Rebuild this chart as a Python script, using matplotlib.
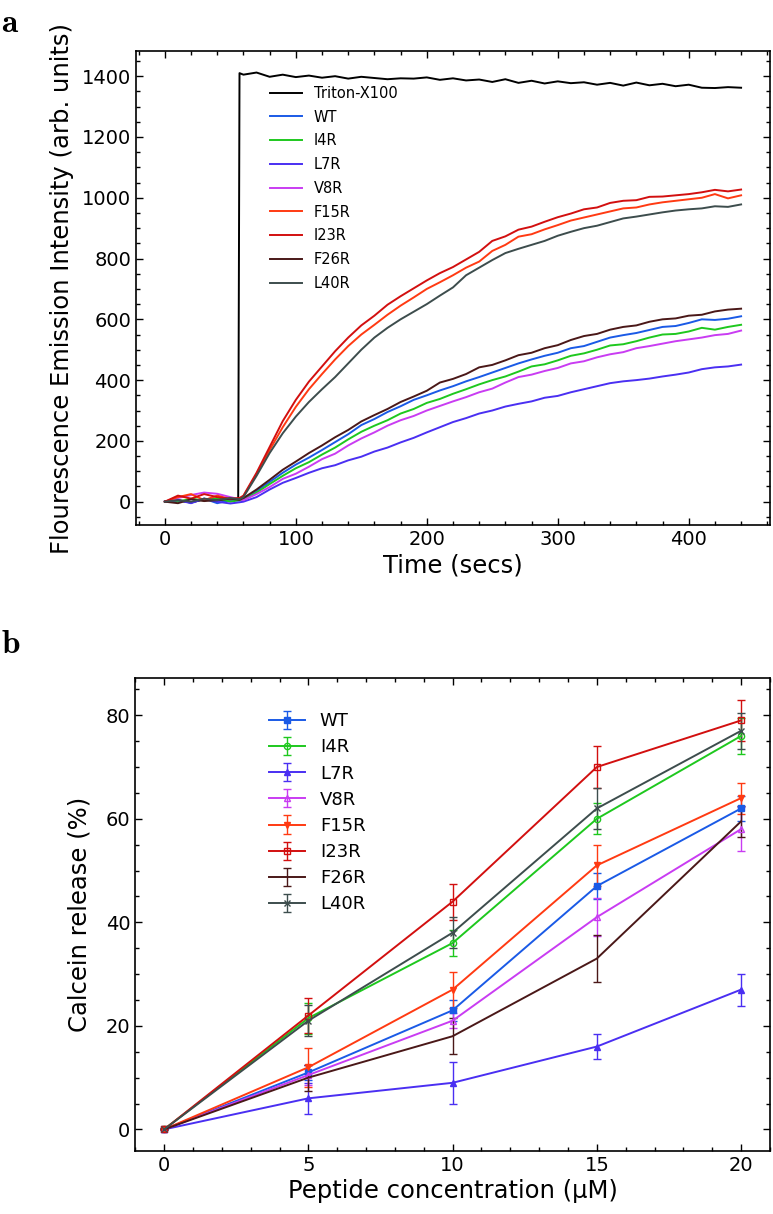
import matplotlib
matplotlib.use('Agg')
import matplotlib.pyplot as plt
from matplotlib.ticker import AutoMinorLocator

plt.rcParams['mathtext.fontset'] = 'cm'

# panel a: fluorescence time courses
triton_time = [0, 10, 20, 30, 40, 50, 56, 57, 60, 70, 80, 90, 100, 110, 120, 130, 140, 150,
               160, 170, 180, 190, 200, 210, 220, 230, 240, 250, 260, 270, 280, 290, 300,
               310, 320, 330, 340, 350, 360, 370, 380, 390, 400, 410, 420, 430, 440]
triton = [0, 5, -3, 8, 4, 10, 8, 1410, 1405, 1412, 1398, 1405, 1397, 1402, 1395, 1400, 1392,
          1398, 1394, 1390, 1393, 1392, 1396, 1388, 1393, 1386, 1389, 1381, 1390, 1378, 1385,
          1376, 1383, 1377, 1380, 1372, 1378, 1369, 1379, 1370, 1375, 1367, 1372, 1362, 1361,
          1364, 1362]

time_s = [0, 10, 20, 30, 40, 50, 57, 60, 70, 80, 90, 100, 110, 120, 130, 140, 150, 160, 170,
          180, 190, 200, 210, 220, 230, 240, 250, 260, 270, 280, 290, 300, 310, 320, 330, 340,
          350, 360, 370, 380, 390, 400, 410, 420, 430, 440]

wt_a = [0, 5, -3, 10, -5, 5, 4, 10, 35, 65, 95, 122, 145, 170, 196, 222, 252, 272, 295, 314,
        335, 350, 366, 380, 396, 410, 425, 440, 455, 468, 480, 490, 505, 512, 526, 540, 548,
        555, 565, 575, 578, 588, 600, 598, 602, 610]
i4r_a = [0, 0, 10, 4, 12, 0, 5, 6, 30, 58, 85, 110, 130, 155, 178, 205, 230, 250, 268, 290,
         305, 325, 338, 355, 370, 386, 400, 412, 428, 445, 452, 465, 480, 488, 500, 514, 518,
         528, 540, 550, 552, 560, 572, 566, 575, 582]
l7r_a = [0, 5, -5, 10, 0, -6, -2, 0, 15, 40, 62, 78, 95, 110, 120, 136, 148, 165, 178, 195,
         210, 228, 245, 262, 275, 290, 300, 313, 322, 330, 342, 348, 360, 370, 380, 390, 396,
         400, 405, 412, 418, 425, 436, 442, 445, 451]
v8r_a = [0, 12, 22, 30, 26, 15, 8, 5, 25, 48, 75, 92, 115, 140, 158, 185, 208, 228, 250, 268,
         282, 300, 315, 330, 344, 360, 372, 392, 410, 418, 430, 440, 455, 462, 475, 485, 492,
         505, 512, 520, 528, 534, 540, 548, 552, 563]
f15r_a = [0, 15, 25, 5, 20, 8, 10, 18, 90, 170, 245, 312, 370, 420, 468, 512, 550, 582, 615,
          645, 672, 700, 722, 745, 770, 790, 825, 845, 872, 880, 896, 910, 925, 935, 945, 955,
          965, 968, 978, 985, 990, 995, 1000, 1012, 998, 1008]
i23r_a = [0, 20, 10, 25, 15, 10, 12, 20, 95, 180, 265, 335, 395, 445, 495, 540, 580, 612, 648,
          676, 702, 728, 752, 772, 797, 822, 858, 873, 895, 905, 921, 936, 948, 962, 968, 983,
          990, 992, 1003, 1004, 1008, 1012, 1018, 1026, 1021, 1027]
f26r_a = [0, -5, 8, 2, 5, 10, 6, 12, 40, 72, 105, 132, 160, 185, 212, 236, 264, 285, 305, 328,
          346, 365, 392, 404, 420, 442, 450, 465, 482, 490, 505, 515, 532, 545, 552, 566, 575,
          580, 592, 600, 603, 612, 615, 626, 632, 635]
l40r_a = [0, 5, 0, 10, 5, 12, 8, 15, 85, 160, 225, 280, 328, 370, 410, 455, 500, 540, 572, 600,
          625, 650, 678, 705, 745, 770, 795, 818, 832, 845, 858, 875, 888, 900, 908, 920, 932,
          938, 945, 952, 958, 962, 965, 972, 970, 978]

# panel b: calcein release
conc = [0, 5, 10, 15, 20]
wt_b = [0, 11, 23, 47, 62]
wt_err = [0, 1.5, 2, 2.5, 2.5]
i4r_b = [0, 21.5, 36, 60, 76]
i4r_err = [0, 3, 2.5, 3, 3.4]
l7r_b = [0, 6, 9, 16, 27]
l7r_err = [0, 3, 4, 2.4, 3.1]
v8r_b = [0, 10.5, 21, 41, 58]
v8r_err = [0, 2, 1.5, 3.7, 4.2]
f15r_b = [0, 12, 27, 51, 64]
f15r_err = [0, 3.8, 3.5, 4, 3]
i23r_b = [0, 22, 44, 70, 79]
i23r_err = [0, 3.4, 3.5, 4.1, 4]
f26r_b = [0, 10, 18, 33, 59.5]
f26r_err = [0, 2.5, 3.5, 4.5, 3]
l40r_b = [0, 21, 38, 62, 77]
l40r_err = [0, 3, 3, 4, 3.5]

names = ['WT', 'I4R', 'L7R', 'V8R', 'F15R', 'I23R', 'F26R', 'L40R']
colors = ['#1a5ae6', '#1ec81e', '#4a2ff2', '#c93cf2', '#ff3a12', '#d20f0f', '#4a1818', '#3d4d4d']
markers = ['s', 'o', '^', '^', 'v', 's', '', 'x']
filled = [True, False, True, False, True, False, True, True]

curves_a = [wt_a, i4r_a, l7r_a, v8r_a, f15r_a, i23r_a, f26r_a, l40r_a]
vals_b = [wt_b, i4r_b, l7r_b, v8r_b, f15r_b, i23r_b, f26r_b, l40r_b]
errs_b = [wt_err, i4r_err, l7r_err, v8r_err, f15r_err, i23r_err, f26r_err, l40r_err]

fig = plt.figure(figsize=(7.73, 12.14), dpi=100)
ax1 = fig.add_axes([0.176, 0.5675, 0.82, 0.3905])
ax2 = fig.add_axes([0.175, 0.052, 0.821, 0.3893])


def style_axis(ax):
    ax.xaxis.set_minor_locator(AutoMinorLocator())
    ax.yaxis.set_minor_locator(AutoMinorLocator())
    ax.tick_params(which='both', direction='in', top=True, right=True, width=1)
    ax.tick_params(which='major', length=5, labelsize=14)
    ax.tick_params(which='minor', length=3)
    for s in ax.spines.values():
        s.set_linewidth(1.2)


# panel a
ax1.plot(triton_time, triton, color='black', lw=1.4, label='Triton-X100')
for name, c, y in zip(names, colors, curves_a):
    ax1.plot(time_s, y, color=c, lw=1.4, label=name)
ax1.set_xlabel('Time (secs)', fontsize=17.5, labelpad=3)
ax1.set_ylabel('Flourescence Emission Intensity (arb. units)', fontsize=17.5, labelpad=6)
ax1.set_xticks([0, 100, 200, 300, 400])
ax1.set_yticks([0, 200, 400, 600, 800, 1000, 1200, 1400])
style_axis(ax1)
ax1.legend(loc='upper left', bbox_to_anchor=(0.2, 0.942), frameon=False, fontsize=10.5,
           handlelength=2.2, handletextpad=0.8, labelspacing=0.6, borderpad=0)

# panel b
for name, c, m, f, y, e in zip(names, colors, markers, filled, vals_b, errs_b):
    ax2.errorbar(conc, y, yerr=e, color=c, lw=1.4, marker=m if m else None, markersize=4.5,
                 mfc=c if f else 'none', mec=c, mew=1, capsize=3, capthick=1, elinewidth=1,
                 label=name)
ax2.set_xlabel('Peptide concentration (μM)', fontsize=17.5, labelpad=3)
ax2.set_ylabel('Calcein release (%)', fontsize=17.5, labelpad=10)
ax2.set_xticks([0, 5, 10, 15, 20])
ax2.set_yticks([0, 20, 40, 60, 80])
style_axis(ax2)
ax2.legend(loc='upper left', bbox_to_anchor=(0.197, 0.947), frameon=False, fontsize=13,
           handlelength=2.0, handletextpad=0.8, labelspacing=0.45, borderpad=0)

fig.text(0.001, 0.995, r'$\mathbf{a}$', fontsize=24, ha='left', va='top')
fig.text(0.001, 0.462, r'$\mathbf{b}$', fontsize=24, ha='left', va='baseline')

fig.savefig('out.png', dpi=100)
